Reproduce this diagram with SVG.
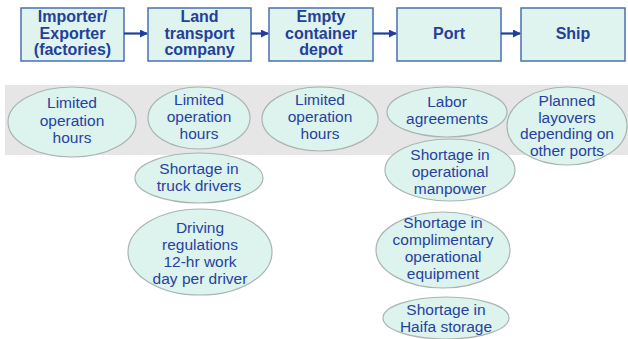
<svg xmlns="http://www.w3.org/2000/svg" width="628" height="339" viewBox="0 0 628 339">
  <style>
    .box { fill: #dff4ef; stroke: #4a6fb5; stroke-width: 1.5; }
    .box-t { font-family: "Liberation Sans", Arial, sans-serif; font-weight: bold; font-size: 16px; fill: #23409a; text-anchor: middle; }
    .ell { fill: #dcf3ee; stroke: #a9b4b2; stroke-width: 1.2; }
    .ell-t { font-family: "Liberation Sans", Arial, sans-serif; font-size: 15.5px; fill: #2642a0; text-anchor: middle; }
    .link { stroke: #1f3f9f; stroke-width: 2.2; fill: none; marker-end: url(#arrow); }
  </style>
  <defs>
    <marker id="arrow" markerWidth="8" markerHeight="8" refX="7" refY="4" orient="auto" markerUnits="userSpaceOnUse">
      <path d="M0,0 L8,4 L0,8 Z" fill="#1f3f9f"/>
    </marker>
  </defs>

  <rect width="628" height="339" fill="#ffffff"/>

  <!-- shaded band behind the first row of constraints -->
  <rect x="5" y="85" width="623" height="70" fill="#e6e6e6"/>

  <!-- supply chain stages -->
  <g id="importer">
    <rect class="box" x="21" y="8" width="103" height="53"/>
    <text class="box-t" x="72.5" y="22">Importer/</text>
    <text class="box-t" x="72.5" y="38.5">Exporter</text>
    <text class="box-t" x="72.5" y="55">(factories)</text>
  </g>
  <g id="land-transport">
    <rect class="box" x="148" y="8" width="103" height="53"/>
    <text class="box-t" x="199.5" y="22">Land</text>
    <text class="box-t" x="199.5" y="38.5">transport</text>
    <text class="box-t" x="199.5" y="55">company</text>
  </g>
  <g id="container-depot">
    <rect class="box" x="269" y="8" width="104" height="53"/>
    <text class="box-t" x="321" y="22">Empty</text>
    <text class="box-t" x="321" y="38.5">container</text>
    <text class="box-t" x="321" y="55">depot</text>
  </g>
  <g id="port">
    <rect class="box" x="397" y="8" width="104" height="53"/>
    <text class="box-t" x="449" y="39">Port</text>
  </g>
  <g id="ship">
    <rect class="box" x="521" y="8" width="104" height="53"/>
    <text class="box-t" x="573" y="39">Ship</text>
  </g>

  <g id="connectors">
    <line class="link" x1="124" y1="33.5" x2="147" y2="33.5"/>
    <line class="link" x1="251" y1="33.5" x2="268" y2="33.5"/>
    <line class="link" x1="373" y1="33.5" x2="396" y2="33.5"/>
    <line class="link" x1="501" y1="33.5" x2="520" y2="33.5"/>
  </g>

  <!-- constraints per stage -->
  <g id="importer-hours">
    <ellipse class="ell" cx="72" cy="122" rx="64" ry="35"/>
    <text class="ell-t" x="72" y="108">Limited</text>
    <text class="ell-t" x="72" y="125.5">operation</text>
    <text class="ell-t" x="72" y="143">hours</text>
  </g>
  <g id="transport-hours">
    <ellipse class="ell" cx="199" cy="118" rx="51" ry="31"/>
    <text class="ell-t" x="199" y="105">Limited</text>
    <text class="ell-t" x="199" y="122">operation</text>
    <text class="ell-t" x="199" y="139">hours</text>
  </g>
  <g id="depot-hours">
    <ellipse class="ell" cx="320" cy="119" rx="58" ry="32"/>
    <text class="ell-t" x="320" y="105">Limited</text>
    <text class="ell-t" x="320" y="122">operation</text>
    <text class="ell-t" x="320" y="139">hours</text>
  </g>
  <g id="labor-agreements">
    <ellipse class="ell" cx="447" cy="112" rx="60" ry="25"/>
    <text class="ell-t" x="447" y="107">Labor</text>
    <text class="ell-t" x="447" y="124">agreements</text>
  </g>
  <g id="planned-layovers">
    <ellipse class="ell" cx="567" cy="126" rx="60" ry="39"/>
    <text class="ell-t" x="567" y="106">Planned</text>
    <text class="ell-t" x="567" y="122.5">layovers</text>
    <text class="ell-t" x="567" y="139">depending on</text>
    <text class="ell-t" x="567" y="155.5">other ports</text>
  </g>
  <g id="truck-drivers">
    <ellipse class="ell" cx="199" cy="178" rx="64" ry="25"/>
    <text class="ell-t" x="199" y="174">Shortage in</text>
    <text class="ell-t" x="199" y="191">truck drivers</text>
  </g>
  <g id="driving-regulations">
    <ellipse class="ell" cx="200" cy="252" rx="72" ry="43"/>
    <text class="ell-t" x="200" y="233">Driving</text>
    <text class="ell-t" x="200" y="250">regulations</text>
    <text class="ell-t" x="200" y="267">12-hr work</text>
    <text class="ell-t" x="200" y="284">day per driver</text>
  </g>
  <g id="port-manpower">
    <ellipse class="ell" cx="450" cy="170" rx="65" ry="31"/>
    <text class="ell-t" x="450" y="160">Shortage in</text>
    <text class="ell-t" x="450" y="177">operational</text>
    <text class="ell-t" x="450" y="194">manpower</text>
  </g>
  <g id="port-equipment">
    <ellipse class="ell" cx="443" cy="250" rx="67" ry="38"/>
    <text class="ell-t" x="443" y="228">Shortage in</text>
    <text class="ell-t" x="443" y="245">complimentary</text>
    <text class="ell-t" x="443" y="262">operational</text>
    <text class="ell-t" x="443" y="279">equipment</text>
  </g>
  <g id="haifa-storage">
    <ellipse class="ell" cx="446" cy="318" rx="63" ry="21"/>
    <text class="ell-t" x="446" y="315">Shortage in</text>
    <text class="ell-t" x="446" y="332">Haifa storage</text>
  </g>
</svg>
